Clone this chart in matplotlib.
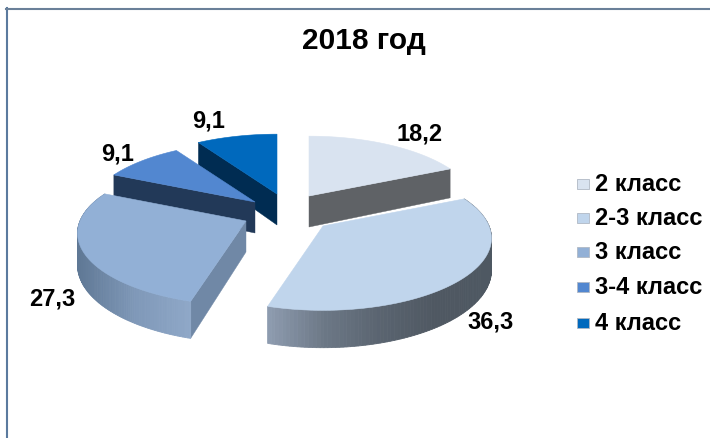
import numpy as np
import matplotlib
matplotlib.use("Agg")
import matplotlib.pyplot as plt
from matplotlib.colors import LinearSegmentedColormap
from matplotlib.patches import Polygon, Rectangle

plt.rcParams['font.family'] = ['Liberation Sans', 'DejaVu Sans']

# ---- data
title = "2018 год"
categories = ["2 класс", "2-3 класс", "3 класс", "3-4 класс", "4 класс"]
values = [18.2, 36.3, 27.3, 9.1, 9.1]
value_labels = ["18,2", "36,3", "27,3", "9,1", "9,1"]

# ---- styles
top_colors = ["#d9e3f0", "#c0d5ec", "#92b0d6", "#5287d0", "#0069bd"]
cut_colors = ["#5f6266", None, "#7088a6", "#223958", "#002c52"]
wall_colors = {1: ["#4e5862", "#4f5862", "#5a6470", "#6c7886", "#8e9cb0"],
               2: ["#8fa8c8", "#7f98b8", "#5f7895"]}
legend_colors = ["#d9e3f0", "#c0d5ec", "#92b0d6", "#5287d0", "#0069bd"]

# ---- layout (pixels)
apex = [(309, 197), (323, 227), (246, 222), (255, 203), (277, 195)]
RX, RY, K, H = 166.0, 70.0, 0.17, 31.0
label_xy = [(420, 134), (491, 322), (52, 299), (118, 154), (209, 121)]
legend_y = [185, 219, 253, 288, 324]

fig = plt.figure(figsize=(7.10, 4.39), dpi=100)
ax = fig.add_axes([0, 0, 1, 1])
ax.set_xlim(0, 710)
ax.set_ylim(439, 0)
ax.axis("off")


def project(i, deg, r=1.0, z=0.0):
    t = np.radians(deg)
    d = 1 + K * r * np.sin(t)
    x = apex[i][0] + RX * r * np.cos(t) / d
    y = apex[i][1] - RY * r * np.sin(t) / d + z / d
    return x, y


cum = np.concatenate([[0], np.cumsum(values)]) / np.sum(values) * 360
start = 90 - cum[:-1]
end = 90 - cum[1:]


def arc(i, a, b, z=0.0):
    ts = np.linspace(a, b, 120)
    return np.column_stack(project(i, ts, 1.0, z))


def draw_wall(i, a, b, colors, z):
    top = arc(i, a, b)
    bot = arc(i, a, b, H)
    x0, x1 = min(top[:, 0].min(), bot[:, 0].min()), max(top[:, 0].max(), bot[:, 0].max())
    cm = LinearSegmentedColormap.from_list("w", colors)
    for k in range(len(top) - 1):
        f = (0.5 * (top[k, 0] + top[k + 1, 0]) - x0) / (x1 - x0)
        q = [top[k], top[k + 1], bot[k + 1], bot[k]]
        ax.add_patch(Polygon(q, closed=True, fc=cm(f), ec=cm(f), lw=0.6, zorder=z))


def draw_cut(i, deg, color, z):
    p = project(i, deg)
    pts = [apex[i], p, (p[0], project(i, deg, 1.0, H)[1]),
           (apex[i][0], apex[i][1] + H)]
    ax.add_patch(Polygon(pts, closed=True, fc=color, ec=color, lw=0.3, zorder=z))


def draw_top(i, z):
    pts = np.vstack([[apex[i]], arc(i, start[i], end[i])])
    ax.add_patch(Polygon(pts, closed=True, fc=top_colors[i], ec=top_colors[i],
                         lw=0.4, zorder=z))


# back slices first, front slices last
draw_cut(4, start[4], cut_colors[4], 2)
draw_top(4, 3)
draw_cut(3, start[3], cut_colors[3], 4)
draw_top(3, 5)
draw_cut(0, end[0], cut_colors[0], 2)
draw_top(0, 3)
draw_cut(2, start[2], cut_colors[2], 6)
draw_wall(2, start[2], end[2], wall_colors[2][::-1], 7)
draw_top(2, 8)
draw_wall(1, start[1], end[1], wall_colors[1][::-1], 9)
draw_top(1, 10)

for lab, (x, y) in zip(value_labels, label_xy):
    ax.text(x, y, lab, fontsize=17, fontweight="bold", ha="center",
            va="center", color="black", zorder=20)

ax.text(364, 41, title, fontsize=21.5, fontweight="bold", ha="center",
        va="center", color="black", zorder=20)

for c, lab, y in zip(legend_colors, categories, legend_y):
    ax.add_patch(Rectangle((577, y - 5), 12, 10, fc=c, ec="#b0b8c4", lw=0.6, zorder=20))
    ax.text(595, y, lab, fontsize=17, fontweight="bold", ha="left",
            va="center", color="black", zorder=20)

ax.plot([6.5, 6.5], [9, 439], color="#5b7a9e", lw=1.5, zorder=30)
ax.plot([6, 710], [10, 10], color="#6a8099", lw=1.5, zorder=30)

fig.savefig("out.png", dpi=100)
